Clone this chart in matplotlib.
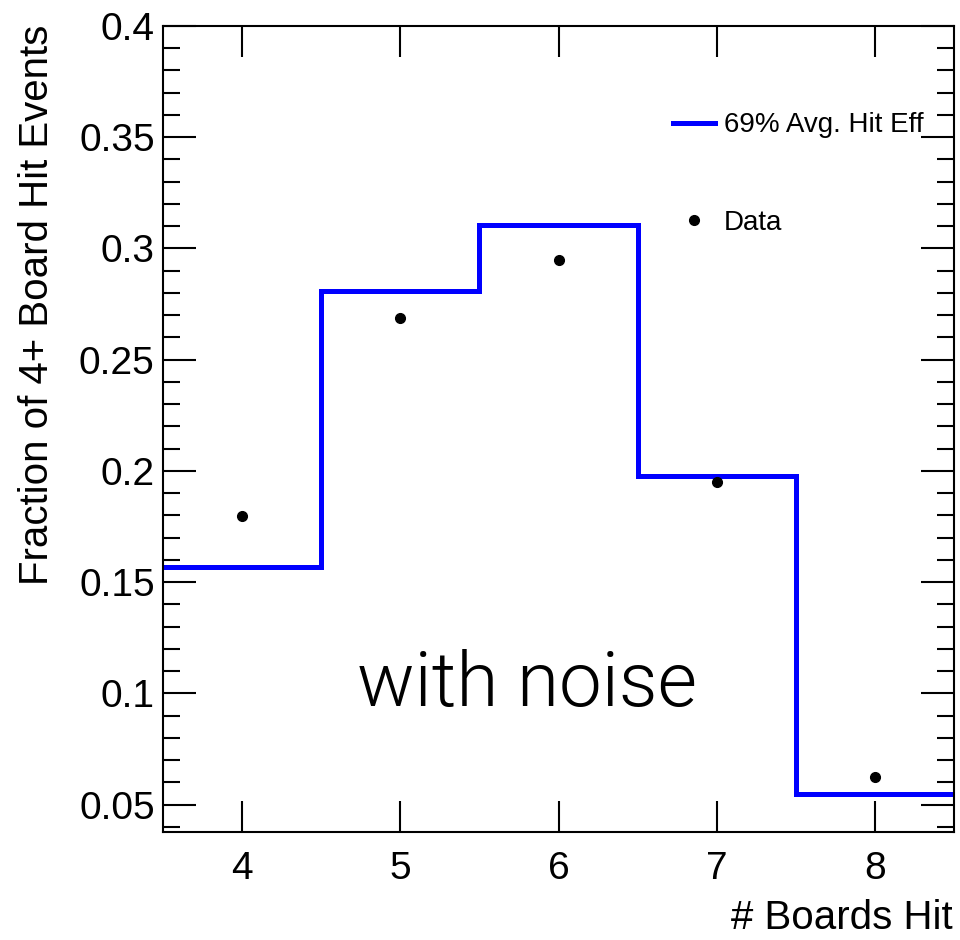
import numpy as np
import matplotlib.pyplot as plt
from matplotlib.ticker import MultipleLocator

# 数据
boards = [4, 5, 6, 7, 8]
bin_edges = [3.5, 4.5, 5.5, 6.5, 7.5, 8.5]
sim_frac = [0.1568, 0.2811, 0.3104, 0.1977, 0.0550]   # 69% Avg. Hit Eff
data_frac = [0.1797, 0.2689, 0.2950, 0.1950, 0.0622]  # Data

plt.rcParams['font.family'] = ['Liberation Sans', 'DejaVu Sans']

fig = plt.figure(figsize=(9.6, 9.4), dpi=100)
ax = fig.add_axes([163 / 960, 1 - 832 / 940, (954 - 163) / 960, (832 - 26) / 940])

ax.stairs(sim_frac, bin_edges, baseline=None, color='#0000ff', linewidth=3.6,
          label='69% Avg. Hit Eff')
ax.plot(boards, data_frac, 'o', color='black', markersize=7, linestyle='none',
        label='Data')

ax.set_xlim(3.5, 8.5)
ax.set_ylim(0.0377, 0.4)

ax.xaxis.set_major_locator(MultipleLocator(1))
ax.yaxis.set_minor_locator(MultipleLocator(0.01))
ax.set_yticks([0.05, 0.1, 0.15, 0.2, 0.25, 0.3, 0.35, 0.4])
ax.set_yticklabels(['0.05', '0.1', '0.15', '0.2', '0.25', '0.3', '0.35', '0.4'])

ax.tick_params(axis='both', which='both', direction='in', top=True, right=True,
               labelsize=28, width=1.5)
ax.tick_params(axis='x', which='major', length=22, pad=14)
ax.tick_params(axis='y', which='major', length=24, pad=6)
ax.tick_params(axis='y', which='minor', length=12)
for s in ax.spines.values():
    s.set_linewidth(1.5)

# 坐标轴标题
fig.text(953 / 960, 1 - 918 / 940, '# Boards Hit', fontsize=29, ha='right', va='center')
fig.text(37 / 960, 1 - 25 / 940, 'Fraction of 4+ Board Hit Events', fontsize=29,
         rotation=90, ha='center', va='top')

ax.text(5.8, 0.1037, 'with noise', fontsize=55, ha='center', va='center',
        family=['Roboto', 'DejaVu Sans'], fontweight=300)

leg = ax.legend(loc='upper left', bbox_to_anchor=(0.613, 0.924), frameon=False,
                fontsize=20, handlelength=1.5, labelspacing=2.58, handletextpad=0.33)

fig.savefig('out.png', dpi=100)
